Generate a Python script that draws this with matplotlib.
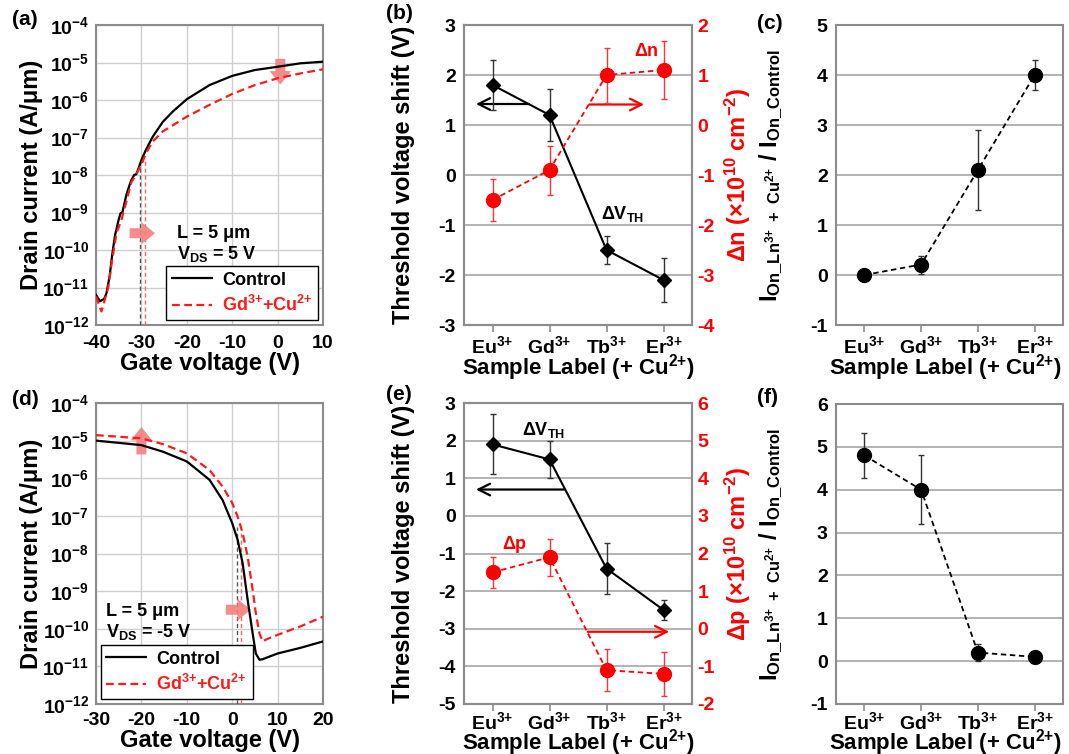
import numpy as np
import matplotlib
matplotlib.use('Agg')
import matplotlib.pyplot as plt
from matplotlib.lines import Line2D
from matplotlib.ticker import NullLocator

plt.rcParams['font.family'] = ['Liberation Sans', 'DejaVu Sans']
plt.rcParams['font.weight'] = 'bold'
plt.rcParams['axes.labelweight'] = 'bold'
plt.rcParams['mathtext.fontset'] = 'custom'
plt.rcParams['mathtext.rm'] = 'Liberation Sans'
plt.rcParams['mathtext.it'] = 'Liberation Sans:italic'
plt.rcParams['mathtext.bf'] = 'Liberation Sans:bold'
plt.rcParams['mathtext.default'] = 'bf'
plt.rcParams['axes.unicode_minus'] = False

# ---- transfer curves, n-type (VDS = 5 V)
n_vg_ctrl = [-40, -39.1, -38.2, -37.7, -37.0, -36.4, -35.8, -35.0, -34.6, -34.2, -33.3, -32.3,
             -31.6, -31.1, -30.0, -29.0, -27.5, -25.3, -23.1, -20.0, -15.0, -10.0, -5.0, 0.0,
             5.0, 10.0]
n_id_ctrl = [6.3e-12, 4.3e-12, 5.0e-12, 7.0e-12, 2.0e-11, 8.0e-11, 2.5e-10, 6.5e-10, 9.5e-10,
             1.0e-9, 3.0e-9, 7.0e-9, 1.0e-8, 1.05e-8, 2.5e-8, 4.7e-8, 1.05e-7, 2.6e-7, 4.9e-7,
             1.05e-6, 2.5e-6, 4.4e-6, 6.3e-6, 7.7e-6, 9.5e-6, 1.05e-5]
n_vg_gd = [-40, -38.8, -37.3, -36.6, -35.5, -34.4, -33.5, -32.2, -31.2, -29.7, -29.0, -27.5,
           -25.3, -20.0, -15.0, -10.0, -5.0, 0.0, 5.0, 10.0]
n_id_gd = [5.8e-12, 2.3e-12, 1.0e-11, 4.0e-11, 2.8e-10, 6.3e-10, 1.6e-9, 6.5e-9, 1.0e-8,
           2.3e-8, 3.8e-8, 7.8e-8, 1.45e-7, 3.6e-7, 7.4e-7, 1.45e-6, 2.5e-6, 3.8e-6, 5.1e-6,
           6.6e-6]
n_vth = [-30.3, -29.3]
n_vth_top = [2.2e-8, 2.5e-8]

# ---- transfer curves, p-type (VDS = -5 V)
p_vg_ctrl = [-30, -20, -15.3, -10, -5, -2.1, 0, 1.2, 2.3, 3.4, 4.5, 5.2, 6.0, 6.7, 10, 15, 20]
p_id_ctrl = [1.0e-5, 7.6e-6, 5.1e-6, 2.8e-6, 9.1e-7, 2.6e-7, 6.4e-8, 2.3e-8, 5.5e-9, 5.9e-10,
             7.6e-11, 2.2e-11, 1.5e-11, 1.55e-11, 2.2e-11, 3.1e-11, 4.6e-11]
p_vg_gd = [-30, -20, -15.3, -10, -5, -2.1, 0, 1.2, 2.3, 3.4, 4.5, 5.2, 6.0, 6.7, 7.5, 10, 15, 20]
p_id_gd = [1.4e-5, 1.15e-5, 8.1e-6, 4.6e-6, 1.65e-6, 6.0e-7, 2.2e-7, 9.6e-8, 3.5e-8, 8.3e-9,
           1.1e-9, 2.6e-10, 7.6e-11, 4.6e-11, 5.2e-11, 6.9e-11, 1.15e-10, 2.1e-10]
p_vth = [0.98, 2.0]
p_vth_top = [5.0e-8, 3.5e-8]

# ---- summary per sample
samples = ['$Eu^{3{+}}$', '$Gd^{3{+}}$', '$Tb^{3{+}}$', '$Er^{3{+}}$']
n_dvth = [1.8, 1.2, -1.5, -2.1]
n_dvth_err = [0.5, 0.52, 0.28, 0.44]
n_dn = [-1.5, -0.9, 1.0, 1.1]
n_dn_err = [0.42, 0.49, 0.55, 0.58]
n_ion = [0.0, 0.21, 2.1, 4.0]
n_ion_err = [0.02, 0.18, 0.8, 0.3]

p_dvth = [1.9, 1.5, -1.4, -2.5]
p_dvth_err = [0.8, 0.5, 0.68, 0.27]
p_dp = [1.5, 1.9, -1.1, -1.2]
p_dp_err = [0.42, 0.49, 0.56, 0.58]
p_ion = [4.8, 4.0, 0.2, 0.1]
p_ion_err = [0.53, 0.8, 0.2, 0.05]

decades = [1e-12, 1e-11, 1e-10, 1e-9, 1e-8, 1e-7, 1e-6, 1e-5, 1e-4]
decade_labels = ['$10^{-%d}$' % k for k in range(12, 3, -1)]

SPINE = '#8c8c8c'
PINK = '#f47f7f'
RED = '#ff1a1a'
TICK_FS = 14
LABEL_FS = 17
W, H = 1069, 754


def box(left, top, right, bottom):
    return [left / W, 1 - bottom / H, (right - left) / W, (bottom - top) / H]


def gray_spines(ax):
    for s in ax.spines.values():
        s.set_color(SPINE)
        s.set_linewidth(1.5)


def fat_arrow(ax, start, end):
    ax.annotate('', xy=end, xytext=start,
                arrowprops=dict(arrowstyle='simple,head_length=0.8,head_width=1.3,tail_width=0.6',
                                color=PINK, alpha=0.9, lw=0, shrinkA=0, shrinkB=0,
                                mutation_scale=12))


def thin_arrow(ax, start, end, color):
    ax.annotate('', xy=end, xytext=start,
                arrowprops=dict(arrowstyle='->,head_length=0.6,head_width=0.3', color=color,
                                lw=1.6, shrinkA=0, shrinkB=0, mutation_scale=14))


def transfer_panel(ax, vg_c, id_c, vg_g, id_g, vth, vth_top, xlim, xticks, loc, xpad):
    ax.plot(vg_c, id_c, color='k', lw=1.6, zorder=4)
    ax.plot(vg_g, id_g, color=RED, lw=1.6, dashes=(3.5, 2), zorder=4)
    ax.plot([vth[0], vth[0]], [1e-12, vth_top[0]], color='#555555', lw=1, dashes=(3, 2), zorder=3)
    ax.plot([vth[1], vth[1]], [1e-12, vth_top[1]], color='#ff6666', lw=1, dashes=(3, 2), zorder=3)
    ax.set_yscale('log')
    ax.set_ylim(1e-12, 1e-4)
    ax.set_xlim(*xlim)
    ax.set_yticks(decades)
    ax.set_yticklabels(decade_labels)
    ax.yaxis.set_minor_locator(NullLocator())
    ax.set_xticks(xticks)
    ax.grid(True, color='#cfcfcf', lw=1)
    ax.set_axisbelow(True)
    ax.tick_params(axis='both', length=0, labelsize=TICK_FS)
    ax.tick_params(axis='x', pad=xpad)
    ax.tick_params(axis='y', pad=5)
    gray_spines(ax)
    ax.set_xlabel('Gate voltage (V)', fontsize=LABEL_FS, labelpad=0)
    ax.set_ylabel('Drain current (A/μm)', fontsize=LABEL_FS)
    ax.yaxis.set_label_coords(-0.235, 0.5)
    handles = [Line2D([], [], color='k', lw=1.6),
               Line2D([], [], color=RED, lw=1.6, dashes=(3.5, 2))]
    leg = ax.legend(handles, ['Control', '$Gd^{3{+}}$+$Cu^{2{+}}$'], loc=loc, fontsize=13,
                    handlelength=2.2, handletextpad=0.6, borderaxespad=0.25, fancybox=False,
                    framealpha=1, edgecolor='k', borderpad=0.3, labelspacing=0.35)
    leg.get_frame().set_linewidth(1)
    leg.get_texts()[1].set_color(RED)


def category_axes(ax, ylim, xpad, label_pos):
    ax.set_xlim(-0.5, 3.5)
    ax.set_ylim(*ylim)
    ax.set_xticks(range(4))
    ax.set_xticklabels(samples)
    ax.set_yticks(range(ylim[0], ylim[1] + 1))
    ax.yaxis.grid(True, color='#a6a6a6', lw=1.2)
    ax.set_axisbelow(True)
    ax.tick_params(axis='x', length=5, color=SPINE, width=1.2, labelsize=TICK_FS, pad=xpad)
    ax.tick_params(axis='y', length=0, labelsize=TICK_FS, pad=6)
    gray_spines(ax)
    ax.set_xlabel('Sample Label (+ $Cu^{2{+}}$)', fontsize=16)
    ax.xaxis.set_label_coords(*label_pos)


def shift_panel(ax, dvth, dvth_err, dq, dq_err, ylim, ylim2, qlabel, xpad, label_pos):
    category_axes(ax, ylim, xpad, label_pos)
    ax.errorbar(range(4), dvth, yerr=dvth_err, color='k', marker='D', ms=7, lw=1.5,
                elinewidth=1, ecolor='#333333', capsize=2, capthick=1, zorder=4)
    ax.set_ylabel('Threshold voltage shift (V)', fontsize=LABEL_FS)
    ax.yaxis.set_label_coords(-0.215, 0.5)
    ax2 = ax.twinx()
    ax2.set_ylim(*ylim2)
    ax2.set_yticks(range(ylim2[0], ylim2[1] + 1))
    ax2.tick_params(axis='y', length=0, labelsize=TICK_FS, colors='red', pad=4)
    gray_spines(ax2)
    ax2.errorbar(range(4), dq, yerr=dq_err, color='red', marker='o', ms=10, lw=1.3,
                 dashes=(3, 2), elinewidth=1, ecolor='#ff3333', capsize=2, capthick=1, zorder=4)
    ax2.set_ylabel(qlabel, color='red', fontsize=LABEL_FS)
    ax2.yaxis.set_label_coords(1.135, 0.5)
    return ax2


def ion_panel(ax, ion, ion_err, ylim, xpad, label_pos):
    category_axes(ax, ylim, xpad, label_pos)
    ax.errorbar(range(4), ion, yerr=ion_err, color='k', marker='o', ms=10, lw=1.3,
                dashes=(3, 2), elinewidth=1, ecolor='#333333', capsize=2, capthick=1, zorder=4)
    ax.set_ylabel(r'$\mathbf{I}_{\mathrm{On\_Ln}^{\mathrm{3{+}}}\mathrm{\ +\ Cu}^{\mathrm{2{+}}}}$'
                  r' / $\mathbf{I}_{\mathrm{On\_Control}}$', fontsize=LABEL_FS)
    ax.yaxis.set_label_coords(-0.225, 0.5)


fig = plt.figure(figsize=(10.69, 7.54), dpi=100)

ax_a = fig.add_axes(box(96, 25, 323, 325))
ax_b = fig.add_axes(box(464, 25, 692, 325))
ax_c = fig.add_axes(box(836, 25, 1063, 325))
ax_d = fig.add_axes(box(96, 403, 323, 704))
ax_e = fig.add_axes(box(464, 403, 692, 704))
ax_f = fig.add_axes(box(836, 404, 1063, 704))

# (a) n-type transfer
transfer_panel(ax_a, n_vg_ctrl, n_id_ctrl, n_vg_gd, n_id_gd, n_vth, n_vth_top,
               (-40, 10), [-40, -30, -20, -10, 0, 10], 'lower right', 7)
fat_arrow(ax_a, (-32.6, 2.8e-10), (-27.0, 2.8e-10))
fat_arrow(ax_a, (0.6, 1.25e-5), (0.6, 2.6e-6))
ax_a.text(-22.2, 2.8e-10, 'L = 5 μm', fontsize=13, va='center')
ax_a.text(-22.2, 8.0e-11, '$V_{DS}$ = 5 V', fontsize=13, va='center')

# (d) p-type transfer
transfer_panel(ax_d, p_vg_ctrl, p_id_ctrl, p_vg_gd, p_id_gd, p_vth, p_vth_top,
               (-30, 20), [-30, -20, -10, 0, 10, 20], 'lower left', 6)
fat_arrow(ax_d, (-20, 4.3e-6), (-20, 2.3e-5))
fat_arrow(ax_d, (-1.4, 3.2e-10), (4.1, 3.2e-10))
ax_d.text(-27.8, 2.8e-10, 'L = 5 μm', fontsize=13, va='center')
ax_d.text(-27.8, 8.0e-11, '$V_{DS}$ = -5 V', fontsize=13, va='center')

# (b) n-type shifts
ax_b2 = shift_panel(ax_b, n_dvth, n_dvth_err, n_dn, n_dn_err, (-3, 3), (-4, 2),
                    'Δn (×10$^{10}$ cm$^{-2}$)', 2, (0.5, -0.09))
thin_arrow(ax_b, (0.64, 1.42), (-0.29, 1.42), 'k')
thin_arrow(ax_b2, (1.7, 0.41), (2.66, 0.41), 'red')
ax_b.text(2.28, -0.77, 'Δ$V_{TH}$', fontsize=13, ha='center', va='center')
ax_b2.text(2.7, 1.47, 'Δn', fontsize=13, color='red', ha='center', va='center')

# (e) p-type shifts
ax_e2 = shift_panel(ax_e, p_dvth, p_dvth_err, p_dp, p_dp_err, (-5, 3), (-2, 6),
                    'Δp (×10$^{10}$ cm$^{-2}$)', 0, (0.5, -0.076))
thin_arrow(ax_e, (1.26, 0.70), (-0.29, 0.70), 'k')
thin_arrow(ax_e2, (1.67, -0.08), (3.1, -0.08), 'red')
ax_e.text(0.9, 2.29, 'Δ$V_{TH}$', fontsize=13, ha='center', va='center')
ax_e.text(0.38, -0.76, 'Δp', fontsize=13, color='red', ha='center', va='center')

# (c), (f) on-current ratios
ion_panel(ax_c, n_ion, n_ion_err, (-1, 5), 2, (0.48, -0.09))
ion_panel(ax_f, p_ion, p_ion_err, (-1, 6), 0, (0.48, -0.076))

for letter, (px, py) in zip('abcdef', [(12, 10), (386, 4), (757, 14),
                                       (12, 390), (386, 385), (757, 388)]):
    fig.text(px / W, 1 - py / H, '(%s)' % letter, fontsize=15, ha='left', va='top')

fig.savefig('out.png', dpi=100)
